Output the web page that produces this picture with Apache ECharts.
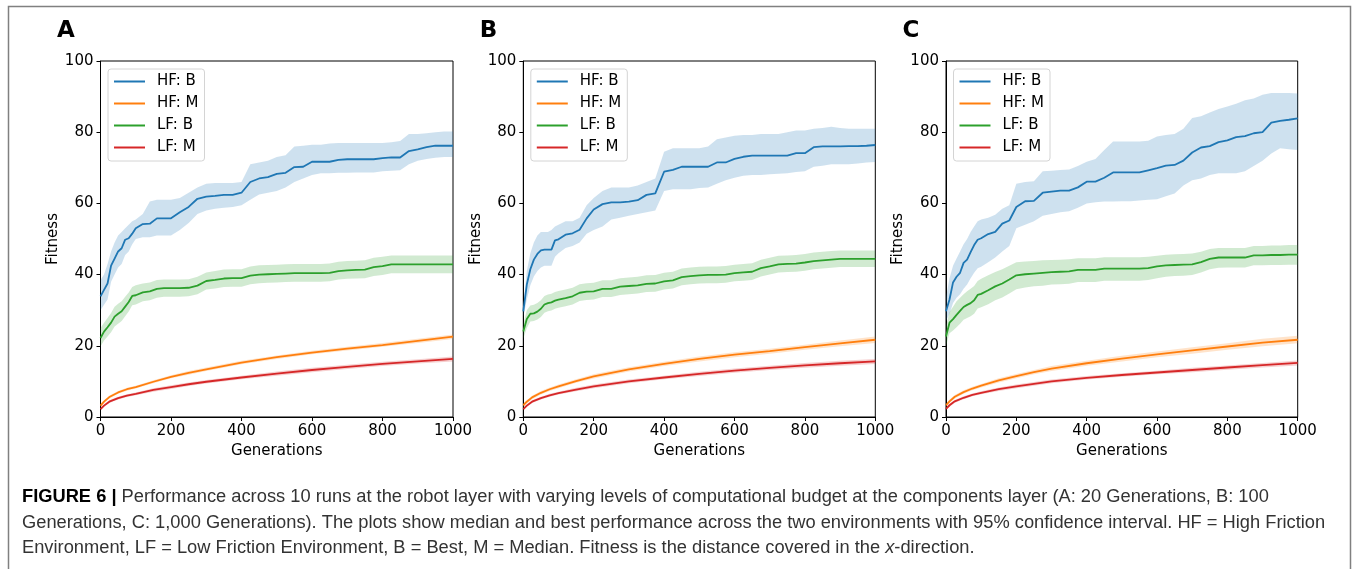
<!DOCTYPE html>
<html>
<head>
<meta charset="utf-8">
<script src="https://cdn.jsdelivr.net/npm/echarts@6/dist/echarts.min.js"></script>
<style>
html, body { margin: 0; padding: 0; background: #fff; }
#chart { width: 1354px; height: 569px; }
</style>
</head>
<body>
<div id="chart"></div>
<script>
// x grids (generations)
var genB = [0,10,20,30,40,50,60,70,80,90,100,120,140,160,180,200,225,250,275,300,325,350,375,400,425,450,475,500,525,550,575,600,625,650,675,700,725,750,775,800,825,850,875,900,925,950,975,1000];
var genM = [0,10,25,50,75,100,150,200,250,300,400,500,600,700,800,900,1000];

var seriesNames = ['HF: B', 'HF: M', 'LF: B', 'LF: M'];
var panelLabels = ['A', 'B', 'C'];
var xTicks = [0, 200, 400, 600, 800, 1000];
var yTicks = [0, 20, 40, 60, 80, 100];

// panel A
var aHfB   = [33.9,35.7,37.5,42.5,44.5,46.5,47.4,49.8,50.2,51.5,53,54.2,54.3,55.8,55.8,55.8,57.5,59,61.3,61.9,62.1,62.4,62.4,63,66,67,67.4,68.3,68.6,70.2,70.3,71.7,71.7,71.7,72.2,72.4,72.4,72.4,72.4,72.7,72.9,72.9,74.7,75.2,75.8,76.2,76.2,76.2];
var aHfBHi = [38.5,40,43,46.5,49,51,52,53,54,55,55.5,57,60.5,61,61,61,61.5,63,64.5,65.5,65.7,65.7,65.7,66,71,71.5,72,73,73.5,76,76.2,76.5,76.5,76.8,77,77,77,77,77,77,77.2,77.5,79.5,79.5,79.7,80,80.2,80.2];
var aHfBLo = [30,31.5,33,38,40,42,43,45.5,46.5,48.5,50,50.5,50.5,51,51,51,52.5,54.5,57,58,58.5,58.8,59,59.5,61,62.5,63,63.5,64.5,66,67,68,68.5,68.5,68.6,68.6,68.7,68.7,68.7,69,69.2,69.3,71,72,72.5,72.8,73,73];
var aLfB   = [22.2,24,25.2,26.5,28.2,29,29.7,31,32.3,34,34.2,35,35.3,36,36.2,36.2,36.2,36.3,36.9,38.2,38.5,38.9,39,39,39.7,40,40.1,40.2,40.3,40.4,40.4,40.4,40.4,40.5,41,41.2,41.3,41.4,42.1,42.4,42.9,42.9,42.9,42.9,42.9,42.9,42.9,42.9];
var aLfBHi = [25,26.5,27.8,29.2,31,31.8,32.5,33.8,35,36.5,37,37.5,37.8,38.5,38.6,38.6,38.6,38.7,39.4,40.6,41,41.4,41.5,41.5,42.3,42.6,42.7,42.8,42.9,43,43,43,43,43.1,43.6,43.8,43.9,44,44.7,45,45.4,45.4,45.4,45.4,45.4,45.4,45.4,45.4];
var aLfBLo = [19.8,21.5,22.6,23.8,25.4,26.2,27,28.3,29.6,31.4,31.6,32.5,32.8,33.5,33.8,33.8,33.8,33.9,34.5,35.8,36.1,36.5,36.6,36.6,37.3,37.6,37.7,37.8,37.9,38,38,38,38,38.1,38.6,38.8,38.9,39,39.6,39.9,40.4,40.4,40.4,40.4,40.4,40.4,40.4,40.4];
var aHfM   = [3.2,4.3,5.6,6.9,7.8,8.4,9.9,11.3,12.4,13.4,15.3,16.8,18.1,19.2,20.2,21.4,22.6];
var aHfMLo = [2.7,3.9,5.2,6.5,7.4,8,9.5,10.9,11.9,12.9,14.8,16.3,17.6,18.7,19.7,20.8,21.9];
var aHfMHi = [3.7,4.7,6,7.3,8.2,8.8,10.3,11.7,12.9,13.9,15.8,17.3,18.6,19.7,20.8,22,23.2];
var aLfM   = [2.2,3.2,4.3,5.3,6,6.5,7.6,8.4,9.2,9.9,11.1,12.2,13.2,14.1,14.9,15.6,16.3];
var aLfMLo = [1.8,2.8,3.9,4.9,5.6,6.1,7.1,7.9,8.7,9.4,10.6,11.6,12.6,13.5,14.3,15,15.6];
var aLfMHi = [2.6,3.6,4.7,5.7,6.4,6.9,8.1,8.9,9.7,10.4,11.6,12.8,13.8,14.7,15.5,16.2,17];

// panel B
var bHfB   = [29.7,37.2,41.5,44.2,45.8,46.8,47,47,47,49.6,49.9,51.2,51.6,52.6,55.8,58.3,59.8,60.3,60.3,60.5,60.9,62.4,62.8,68.9,69.4,70.3,70.3,70.3,70.3,71.5,71.5,72.5,73.1,73.4,73.4,73.4,73.4,73.4,74.1,74.1,75.8,76,76,76,76.1,76.1,76.2,76.4];
var bHfBHi = [31,41,46,49,51,52,52,52,52.5,53.5,54,55,55,56,59.5,61.5,63.5,64.5,64.5,64.5,65,66,67,74.5,75.5,75.5,75.5,75.5,76,78,78.5,79,79.2,79.2,79.5,79.5,79.5,80,80.5,80.5,81,81.2,81.5,81.2,81,81,81,81];
var bHfBLo = [28,33,37,39.5,41,42,42.5,42.5,42.5,45,46,47.5,48,49,51.5,52.5,53.5,55.5,56,56.5,57,57.5,58,63.5,64,64,64,64.3,64.5,65.5,66.5,67.2,67.8,68,68,68.2,68.3,68.5,68.8,69,70.3,70.6,71,71,71,71.2,71.5,71.6];
var bLfB   = [24,27.5,29,29.1,29.6,30.4,31.6,32,32.2,32.7,33,33.4,33.9,34.9,35.2,35.3,36,36,36.6,36.8,37,37.4,37.5,38.1,38.4,39.3,39.6,39.8,39.9,39.9,40,40.4,40.6,40.8,41.8,42.3,42.9,43,43.1,43.4,43.8,44,44.2,44.4,44.4,44.4,44.4,44.4];
var bLfBHi = [26,30,31.3,31.5,32,32.8,34,34.4,34.6,35.1,35.4,35.8,36.3,37.3,37.6,37.7,38.4,38.4,39,39.2,39.4,39.8,39.9,40.5,40.8,41.7,42,42.2,42.3,42.3,42.4,42.8,43,43.2,44.2,44.7,45.3,45.4,45.5,45.8,46.2,46.4,46.6,46.8,46.8,46.8,46.8,46.8];
var bLfBLo = [22,25,26.8,27,27.4,28.1,29.3,29.7,29.9,30.4,30.7,31.1,31.6,32.6,32.9,33,33.7,33.7,34.3,34.5,34.7,35.1,35.2,35.8,36.1,37,37.3,37.5,37.6,37.6,37.7,38.1,38.3,38.5,39.5,40,40.6,40.7,40.8,41.1,41.5,41.7,41.9,42.1,42.1,42.1,42.1,42.1];
var bHfM   = [3.3,4.3,5.5,6.8,7.8,8.6,10.1,11.4,12.4,13.4,14.9,16.3,17.5,18.5,19.6,20.7,21.7];
var bHfMLo = [2.8,3.8,5,6.3,7.3,8.1,9.6,10.8,11.8,12.8,14.3,15.6,16.8,17.8,18.9,19.9,20.8];
var bHfMHi = [3.8,4.8,6,7.3,8.3,9.1,10.6,12,13,14,15.5,17,18.2,19.2,20.3,21.5,22.6];
var bLfM   = [2.2,3.2,4.3,5.3,6.1,6.7,7.7,8.6,9.3,10,11.1,12.1,13,13.8,14.5,15.1,15.6];
var bLfMLo = [1.8,2.8,3.9,4.9,5.7,6.3,7.2,8.1,8.8,9.5,10.6,11.5,12.4,13.2,13.8,14.4,14.9];
var bLfMHi = [2.6,3.6,4.7,5.7,6.5,7.1,8.2,9.1,9.8,10.5,11.6,12.7,13.6,14.4,15.2,15.8,16.3];

// panel C
var cHfB   = [29.7,33,37.8,39.4,40.5,43.3,44.2,46.3,48.3,49.8,50.2,51.4,52,54.3,55.2,59,60.6,60.7,63,63.3,63.6,63.6,64.5,66.1,66.1,67.2,68.7,68.7,68.7,68.7,69.3,69.9,70.6,70.8,72,74.3,75.7,76.1,77.2,77.7,78.6,78.9,79.7,80,82.7,83.2,83.5,83.9];
var cHfBHi = [33.5,39,42.5,44.5,46.5,48.5,50,52,53.5,55,55.5,56,56.8,58.5,59.5,65.5,66,66.2,69,69.2,69.4,69.5,70.5,71.7,72.5,75,77.4,77.4,77.4,77.4,77.6,78.8,79.2,79.5,81,84,84.5,85.5,86.5,87.2,88,89,89.5,90.5,91,91,91,90.9];
var cHfBLo = [27,29,32,33.5,34.5,36,37.2,39,40.5,41.8,42.2,43.5,44.8,46.5,48,53,54,55,56.5,57,57.5,57.8,58.8,60,60.3,60.5,60.5,60.6,60.6,60.8,61,61.2,62,62.8,65,66.5,67,68,68.5,68.5,68.5,69,70.5,72,74,75.5,75.2,75];
var cLfB   = [22.6,26.5,27.5,28.7,29.8,30.9,31.5,32,32.8,34.3,34.6,35.6,36.7,37.5,38.6,39.8,40.1,40.3,40.5,40.7,40.8,40.9,41.3,41.3,41.3,41.7,41.7,41.7,41.7,41.7,41.8,42.3,42.6,42.7,42.8,42.9,43.5,44.4,44.8,44.8,44.8,44.8,45.4,45.4,45.5,45.5,45.6,45.6];
var cLfBHi = [25.5,29.5,31,32.5,33.5,34.5,35.3,36,36.8,38.2,38.8,39.8,40.7,41.5,42.5,43.5,43.7,43.8,44,44.1,44.2,44.3,44.6,44.6,44.6,44.9,44.9,44.9,44.9,44.9,45,45.3,45.6,45.7,45.8,45.9,46.4,47.2,47.5,47.5,47.5,47.5,48,48,48.2,48.2,48.3,48.3];
var cLfBLo = [20,23.5,24.3,25.2,26.2,27.3,27.8,28.3,29,30.5,30.8,31.7,32.8,33.6,34.7,35.9,36.4,36.7,36.9,37.2,37.3,37.4,37.9,37.9,37.9,38.3,38.3,38.3,38.3,38.3,38.5,39,39.4,39.6,39.7,39.9,40.6,41.5,41.9,42,42,42,42.6,42.6,42.7,42.7,42.8,42.8];
var cHfM   = [3.3,4.4,5.7,7,8,8.8,10.3,11.5,12.6,13.6,15.1,16.4,17.6,18.7,19.8,20.9,21.7];
var cHfMLo = [2.8,3.9,5.2,6.5,7.5,8.3,9.7,10.9,12,12.9,14.4,15.6,16.8,17.8,18.9,19.9,20.7];
var cHfMHi = [3.8,4.9,6.2,7.5,8.5,9.3,10.9,12.1,13.2,14.3,15.8,17.2,18.4,19.6,20.7,22,22.8];
var cLfM   = [2.3,3.3,4.4,5.4,6.2,6.8,7.8,8.6,9.3,10,11,11.8,12.5,13.2,13.9,14.6,15.2];
var cLfMLo = [1.9,2.9,4,5,5.8,6.4,7.3,8.1,8.8,9.5,10.5,11.3,12,12.6,13.3,13.9,14.5];
var cLfMHi = [2.7,3.7,4.8,5.8,6.6,7.2,8.3,9.1,9.8,10.5,11.5,12.3,13,13.8,14.5,15.2,15.9];

var captionLines = [
  'Performance across 10 runs at the robot layer with varying levels of computational budget at the components layer (A: 20 Generations, B: 100',
  'Generations, C: 1,000 Generations). The plots show median and best performance across the two environments with 95% confidence interval. HF = High Friction',
  'Environment, LF = Low Friction Environment, B = Best, M = Median. Fitness is the distance covered in the '
];

var panels = [
  { hfB: aHfB, hfBLo: aHfBLo, hfBHi: aHfBHi, lfB: aLfB, lfBLo: aLfBLo, lfBHi: aLfBHi, hfM: aHfM, hfMLo: aHfMLo, hfMHi: aHfMHi, lfM: aLfM, lfMLo: aLfMLo, lfMHi: aLfMHi },
  { hfB: bHfB, hfBLo: bHfBLo, hfBHi: bHfBHi, lfB: bLfB, lfBLo: bLfBLo, lfBHi: bLfBHi, hfM: bHfM, hfMLo: bHfMLo, hfMHi: bHfMHi, lfM: bLfM, lfMLo: bLfMLo, lfMHi: bLfMHi },
  { hfB: cHfB, hfBLo: cHfBLo, hfBHi: cHfBHi, lfB: cLfB, lfBLo: cLfBLo, lfBHi: cLfBHi, hfM: cHfM, hfMLo: cHfMLo, hfMHi: cHfMHi, lfM: cLfM, lfMLo: cLfMLo, lfMHi: cLfMHi }
];

var colors = ['#1f77b4', '#ff7f0e', '#2ca02c', '#d62728'];
var bandColors = ['rgba(31,119,180,0.22)', 'rgba(255,127,14,0.22)', 'rgba(44,160,44,0.22)', 'rgba(214,39,40,0.22)'];
var gridLeft = [100.5, 523.3, 946];
var gridWidth = [352.5, 352, 351.7];
var font = 'DejaVu Sans';

function zip(xs, ys) {
  return xs.map(function (x, k) { return [x, ys[k]]; });
}

function bandSeries(i, xs, lo, hi, color) {
  return {
    type: 'custom', xAxisIndex: i, yAxisIndex: i, silent: true, clip: true, z: 1,
    data: [[xs[0], lo[0]]],
    renderItem: function (params, api) {
      var pts = [];
      for (var k = 0; k < xs.length; k++) pts.push(api.coord([xs[k], hi[k]]));
      for (var k = xs.length - 1; k >= 0; k--) pts.push(api.coord([xs[k], lo[k]]));
      return { type: 'polygon', shape: { points: pts }, style: { fill: color } };
    }
  };
}

function lineSeries(i, name, xs, ys, color) {
  return {
    type: 'line', name: name, xAxisIndex: i, yAxisIndex: i, data: zip(xs, ys),
    showSymbol: false, symbol: 'none', color: color, z: 3,
    lineStyle: { color: color, width: 1.8 }
  };
}

var grids = [], xAxes = [], yAxes = [], legends = [], series = [];
var graphics = [];

panels.forEach(function (p, i) {
  grids.push({ left: gridLeft[i], top: 61, width: gridWidth[i], height: 356, show: true, borderColor: '#000', borderWidth: 1 });
  xAxes.push({
    type: 'value', gridIndex: i, min: xTicks[0], max: xTicks[xTicks.length - 1], interval: 200,
    name: 'Generations', nameLocation: 'middle', nameGap: 25,
    nameTextStyle: { fontSize: 15, color: '#000', fontFamily: font },
    axisLine: { show: true, onZero: false, lineStyle: { color: '#000', width: 1 } },
    axisTick: { show: true, length: 4, lineStyle: { color: '#000' } },
    axisLabel: { fontSize: 15, color: '#000', margin: 7, fontFamily: font, formatter: function (v) { return String(v); } },
    splitLine: { show: false }
  });
  yAxes.push({
    type: 'value', gridIndex: i, min: yTicks[0], max: yTicks[yTicks.length - 1], interval: 20,
    name: 'Fitness', nameLocation: 'middle', nameGap: 40,
    nameTextStyle: { fontSize: 15, color: '#000', fontFamily: font },
    axisLine: { show: true, onZero: false, lineStyle: { color: '#000', width: 1 } },
    axisTick: { show: true, length: 4, lineStyle: { color: '#000' } },
    axisLabel: { fontSize: 15, color: '#000', margin: 7, fontFamily: font, formatter: function (v) { return String(v); } },
    splitLine: { show: false }
  });
  legends.push({
    data: seriesNames, orient: 'vertical', left: gridLeft[i] + 7.5, top: 69,
    icon: 'rect', itemWidth: 31, itemHeight: 2, itemGap: 5, selectedMode: false,
    backgroundColor: '#fff', borderColor: '#d4d4d4', borderWidth: 1, borderRadius: 3,
    padding: [4, 6, 5, 6],
    textStyle: { fontSize: 15, lineHeight: 17, color: '#000', fontFamily: font, padding: [0, 0, 0, 7] }
  });

  series.push(bandSeries(i, genB, p.hfBLo, p.hfBHi, bandColors[0]));
  series.push(bandSeries(i, genM, p.hfMLo, p.hfMHi, bandColors[1]));
  series.push(bandSeries(i, genB, p.lfBLo, p.lfBHi, bandColors[2]));
  series.push(bandSeries(i, genM, p.lfMLo, p.lfMHi, bandColors[3]));
  series.push(lineSeries(i, seriesNames[0], genB, p.hfB, colors[0]));
  series.push(lineSeries(i, seriesNames[1], genM, p.hfM, colors[1]));
  series.push(lineSeries(i, seriesNames[2], genB, p.lfB, colors[2]));
  series.push(lineSeries(i, seriesNames[3], genM, p.lfM, colors[3]));

  graphics.push({
    type: 'text', left: gridLeft[i] - 43.5, top: 20,
    style: { text: panelLabels[i], font: 'bold 23px "DejaVu Sans"', fill: '#000' }
  });
});

// outer frame
graphics.push({
  type: 'rect', shape: { x: 8.5, y: 6.5, width: 1342, height: 600 },
  style: { fill: 'none', stroke: '#808080', lineWidth: 1.5 }, z: -1
});

// caption
var capSize = 18.3;
var capRich = {
  b: { fontFamily: 'Liberation Sans', fontSize: capSize, fontWeight: 'bold', fill: '#000' },
  r: { fontFamily: 'Liberation Sans', fontSize: capSize, fill: '#333' },
  i: { fontFamily: 'Liberation Sans', fontSize: capSize, fontStyle: 'italic', fill: '#333' }
};
var capY = [497, 523, 548];
graphics.push({ type: 'text', x: 22, y: capY[0], style: { text: '{b|FIGURE 6 |}{r| ' + captionLines[0] + '}', rich: capRich, verticalAlign: 'middle' } });
graphics.push({ type: 'text', x: 22, y: capY[1], style: { text: '{r|' + captionLines[1] + '}', rich: capRich, verticalAlign: 'middle' } });
graphics.push({ type: 'text', x: 22, y: capY[2], style: { text: '{r|' + captionLines[2] + '}{i|x}{r|-direction.}', rich: capRich, verticalAlign: 'middle' } });

var chart = echarts.init(document.getElementById('chart'));
chart.setOption({
  animation: false,
  backgroundColor: '#fff',
  grid: grids,
  xAxis: xAxes,
  yAxis: yAxes,
  legend: legends,
  series: series,
  graphic: graphics
});
</script>
</body>
</html>
